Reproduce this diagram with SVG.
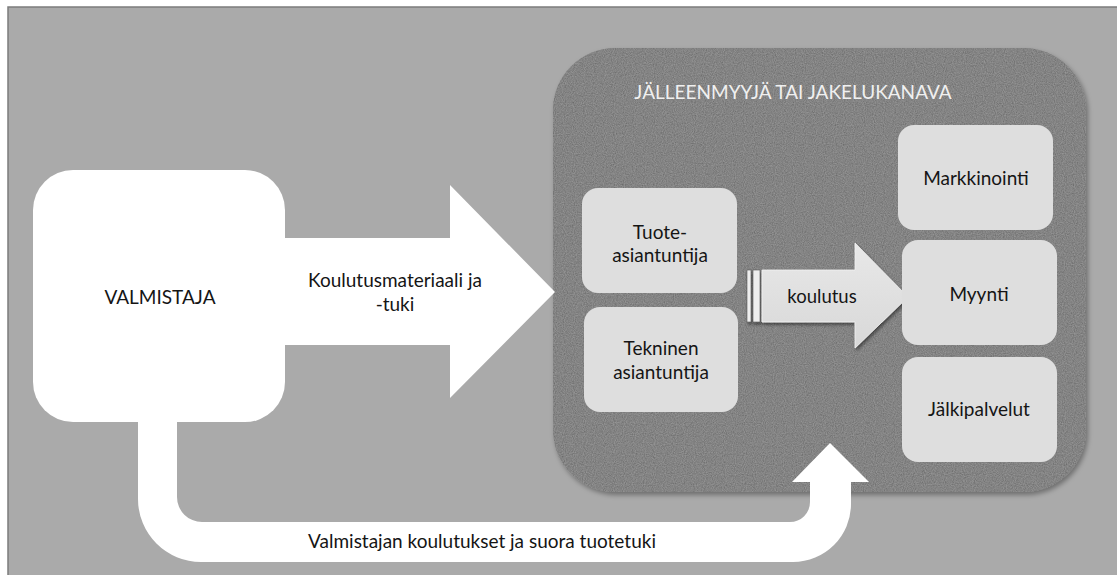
<svg xmlns="http://www.w3.org/2000/svg" width="1117" height="575" viewBox="0 0 1117 575">
  <style>
    .t { font-family: "Lato", "Liberation Sans", sans-serif; fill: #151515; text-anchor: middle; font-size: 19px; }
    .box { fill: #dedede; }
    .white { fill: #ffffff; }
  </style>
  <defs>
    <filter id="shadow" x="-10%" y="-10%" width="125%" height="125%">
      <feDropShadow dx="2" dy="3" stdDeviation="2.5" flood-color="#000" flood-opacity="0.35"/>
    </filter>
    <filter id="noise" x="0" y="0" width="100%" height="100%">
      <feTurbulence type="fractalNoise" baseFrequency="0.9" numOctaves="2" seed="3" result="n"/>
      <feColorMatrix in="n" type="matrix" values="0.8 0 0 0 0  0.8 0 0 0 0  0.8 0 0 0 0  0 0 0 0 0.25" result="g"/>
      <feComposite in="g" in2="SourceGraphic" operator="in" result="gi"/>
      <feMerge><feMergeNode in="SourceGraphic"/><feMergeNode in="gi"/></feMerge>
    </filter>
    <filter id="shadow2" x="-10%" y="-20%" width="130%" height="150%">
      <feDropShadow dx="1.5" dy="2.5" stdDeviation="1.5" flood-color="#000" flood-opacity="0.45"/>
    </filter>
    <linearGradient id="kg" x1="0" y1="0" x2="0" y2="1">
      <stop offset="0" stop-color="#e8e8e8"/>
      <stop offset="1" stop-color="#d8d8d8"/>
    </linearGradient>
  </defs>

  <!-- frame -->
  <rect x="8" y="7" width="1115" height="575" fill="#aaaaaa" stroke="#7c7c7c" stroke-width="1.5"/>

  <!-- container -->
  <g id="container">
    <g filter="url(#shadow)">
      <rect x="553" y="48" width="533" height="444" rx="62" ry="62" fill="#737373" filter="url(#noise)"/>
    </g>
    <text x="793" y="99" class="t" style="fill:#f0f0f0">JÄLLEENMYYJÄ TAI JAKELUKANAVA</text>
  </g>

  <!-- connectors -->
  <g id="connectors">
    <path class="white" d="M 280 238 L 450 238 L 450 185 L 555 292 L 450 398 L 450 345 L 280 345 Z"/>
    <path class="white" d="M 138 400 L 138 499 A 63 63 0 0 0 201 562 L 793 562 A 58 58 0 0 0 851 504 L 851 482 L 869 482 L 830 443 L 792 482 L 810 482 L 810 502 A 20 20 0 0 1 790 522 L 202 522 A 25 25 0 0 1 177 497 L 177 400 Z"/>
    <g id="koulutus-arrow" filter="url(#shadow2)">
      <rect x="747" y="270" width="4" height="52" fill="#eeeeee" stroke="#555" stroke-width="0.6"/>
      <rect x="753" y="270" width="7" height="52" fill="#eeeeee" stroke="#555" stroke-width="0.6"/>
      <path d="M 762 270 L 855 270 L 855 243 L 908 297 L 855 348 L 855 322 L 762 322 Z" fill="url(#kg)" stroke="#f4f4f4" stroke-width="0.8"/>
    </g>
    <text x="395" y="287" class="t">Koulutusmateriaali ja</text>
    <text x="395" y="311" class="t">-tuki</text>
    <text x="482" y="548" class="t">Valmistajan koulutukset ja suora tuotetuki</text>
    <text x="822" y="303" class="t" style="font-size:18.5px">koulutus</text>
  </g>

  <!-- nodes -->
  <g id="valmistaja">
    <rect x="33" y="170" width="252" height="252" rx="40" ry="40" class="white"/>
    <text x="160" y="304" class="t">VALMISTAJA</text>
  </g>
  <g id="tuote">
    <rect x="582" y="188" width="155" height="105" rx="16" ry="16" class="box"/>
    <text x="660" y="239" class="t">Tuote-</text>
    <text x="660" y="262" class="t">asiantuntija</text>
  </g>
  <g id="tekninen">
    <rect x="584" y="307" width="154" height="105" rx="16" ry="16" class="box"/>
    <text x="661" y="355" class="t">Tekninen</text>
    <text x="661" y="379" class="t">asiantuntija</text>
  </g>
  <g id="markkinointi">
    <rect x="898" y="125" width="155" height="105" rx="16" ry="16" class="box"/>
    <text x="976" y="185" class="t">Markkinointi</text>
  </g>
  <g id="myynti">
    <rect x="902" y="240" width="155" height="105" rx="16" ry="16" class="box"/>
    <text x="979" y="301" class="t">Myynti</text>
  </g>
  <g id="jalkipalvelut">
    <rect x="902" y="357" width="155" height="105" rx="16" ry="16" class="box"/>
    <text x="979" y="416" class="t">Jälkipalvelut</text>
  </g>
</svg>
